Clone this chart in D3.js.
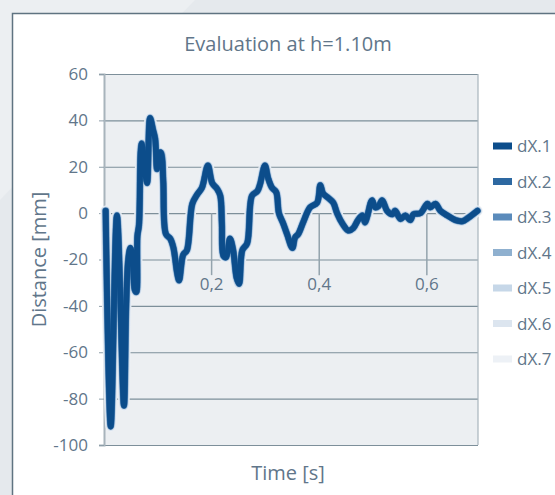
<!DOCTYPE html>
<html lang="en">
<head>
    <meta charset="UTF-8">
    <title>Evaluation at h=1.10m</title>
    <script src="https://d3js.org/d3.v7.min.js"></script>
    <style>
        body { margin: 0; background: #e5e9ed; }
        svg { font-family: "Open Sans", sans-serif; display: block; }
        .lbl { fill: #61768a; }
    </style>
</head>
<body>
    <svg></svg>
    <script>
        // time [s]
        const time = [0.004, 0.0134, 0.025, 0.038, 0.042, 0.046, 0.050, 0.054, 0.058, 0.061,
            0.063, 0.066, 0.069, 0.071, 0.076, 0.081, 0.0865, 0.092, 0.096, 0.0995,
            0.104, 0.107, 0.111, 0.116, 0.124, 0.130, 0.137, 0.1405, 0.148, 0.155,
            0.165, 0.174, 0.183, 0.194, 0.202, 0.211, 0.217, 0.220, 0.223, 0.228,
            0.235, 0.241, 0.2475, 0.252, 0.258, 0.267, 0.276, 0.286, 0.291, 0.300,
            0.306, 0.313, 0.321, 0.326, 0.334, 0.341, 0.351, 0.356, 0.362, 0.371,
            0.384, 0.397, 0.403, 0.408, 0.418, 0.427, 0.434, 0.444, 0.455, 0.464,
            0.473, 0.481, 0.486, 0.490, 0.499, 0.505, 0.511, 0.518, 0.527, 0.537,
            0.542, 0.552, 0.561, 0.570, 0.576, 0.589, 0.602, 0.607, 0.617, 0.626,
            0.639, 0.654, 0.667, 0.678, 0.695];
        // distance [mm], all seven series lie practically on top of each other
        const distance = [1, -92, -1, -83, -41, -20, -15, -18, -33, -34,
            -10, -5, 26, 30, 20, 13, 41, 36, 32, 19,
            26, 26, 14, -9, -11, -15, -26, -29, -18, -16,
            4, 8, 11, 20.5, 13, 10.5, 7.5, -4.5, -18.5, -19,
            -11, -16, -28, -30.5, -16, -13, 7.5, 9.5, 12.5, 20.5,
            15, 11, 9, 0, -4.5, -9, -15, -10.5, -9, -4,
            2.5, 4.5, 12, 8.5, 6.5, 4.5, 0, -4.5, -7.5, -6.5,
            -3, -1, -4, -1.5, 5.5, 2.5, 3, 5.5, 1, -0.5,
            1, -2.5, -1, -3, -0.5, 0, 4, 2.5, 4, 1,
            -1, -3, -3.5, -2, 1];
        const seriesNames = ['dX.1', 'dX.2', 'dX.3', 'dX.4', 'dX.5', 'dX.6', 'dX.7'];
        const seriesColors = ['#0c4d8b', '#2d68a1', '#5b8bbb', '#8fb0cf', '#c6d7e8', '#dce5ef', '#edf1f6'];
        const seriesWidths = [5.6, 6, 6.4, 7, 8, 9.2, 10.5];
        const yTicks = [-100, -80, -60, -40, -20, 0, 20, 40, 60];
        const xTicks = [0.2, 0.4, 0.6];

        const W = 555, H = 495;
        const plot = { left: 104, right: 478, top: 74, bottom: 445 };

        const svg = d3.select('svg').attr('width', W).attr('height', H);

        // background + panel
        svg.append('rect').attr('width', W).attr('height', H).attr('fill', '#e5e9ed');
        svg.append('path').attr('d', 'M0,0 L195,0 L0,200 Z').attr('fill', '#eceff2');
        svg.append('rect')
            .attr('x', 12.5).attr('y', 13.5)
            .attr('width', W).attr('height', H)
            .attr('fill', '#ffffff')
            .attr('stroke', '#5f7381').attr('stroke-width', 1.5);

        const x = d3.scaleLinear().domain([0, 0.696]).range([103.5, plot.right]);
        const y = d3.scaleLinear().domain([-100, 60]).range([plot.bottom, plot.top]);

        svg.append('rect')
            .attr('x', plot.left).attr('y', plot.top)
            .attr('width', plot.right - plot.left).attr('height', plot.bottom - plot.top)
            .attr('fill', '#eceff2');

        // horizontal gridlines
        svg.append('g').selectAll('line').data(yTicks).enter().append('line')
            .attr('x1', plot.left).attr('x2', plot.right)
            .attr('y1', d => y(d) + 0.5).attr('y2', d => y(d) + 0.5)
            .attr('stroke', '#7d8f9a').attr('stroke-width', 1.2);

        // plot frame right side
        svg.append('line').attr('x1', plot.right).attr('x2', plot.right)
            .attr('y1', plot.top).attr('y2', plot.bottom)
            .attr('stroke', '#a8b4bc').attr('stroke-width', 1.2);

        // y axis
        const yAxis = svg.append('g')
            .attr('transform', `translate(${plot.left},0)`)
            .call(d3.axisLeft(y).tickValues(yTicks).tickSize(5).tickPadding(11).tickFormat(d => String(d)));
        yAxis.select('.domain').attr('stroke', '#a8b4bc').attr('stroke-width', 2);
        yAxis.selectAll('.tick line').attr('stroke', '#8d9ea9');
        yAxis.selectAll('.tick text').attr('class', 'lbl')
            .style('font-size', '17px').style('font-family', '"Open Sans", sans-serif');

        // x axis crosses at 0, ticks hang down
        const fmt = d3.formatLocale({ decimal: ',', thousands: '.', grouping: [3], currency: ['', ''] }).format('.1f');
        const xAxis = svg.append('g')
            .attr('transform', `translate(0,${y(0)})`)
            .call(d3.axisBottom(x).tickValues(xTicks).tickSize(62).tickPadding(3).tickFormat(fmt));
        xAxis.select('.domain').remove();
        xAxis.selectAll('.tick line').attr('stroke', '#93a3ad').attr('stroke-width', 1.5);
        xAxis.selectAll('.tick text').attr('class', 'lbl')
            .style('font-size', '17px').style('font-family', '"Open Sans", sans-serif');

        // series, lightest drawn first
        const line = d3.line()
            .x((d, i) => x(time[i]))
            .y(d => y(d))
            .curve(d3.curveCatmullRom.alpha(0.5));

        const order = d3.range(seriesNames.length).reverse();
        svg.append('g').selectAll('path').data(order).enter().append('path')
            .attr('d', () => line(distance))
            .attr('fill', 'none')
            .attr('stroke', i => seriesColors[i])
            .attr('stroke-width', i => seriesWidths[i])
            .attr('stroke-linejoin', 'round')
            .attr('stroke-linecap', 'round');

        // legend
        const legend = svg.append('g').selectAll('g').data(seriesNames).enter().append('g')
            .attr('transform', (d, i) => `translate(493,${146 + i * 35.5})`);
        legend.append('rect')
            .attr('x', 0).attr('y', -3.5).attr('width', 19).attr('height', 7)
            .attr('fill', (d, i) => seriesColors[i]);
        legend.append('text')
            .attr('class', 'lbl')
            .attr('x', 24).attr('y', 6)
            .style('font-size', '17px')
            .text(d => d);

        // titles
        svg.append('text').attr('class', 'lbl')
            .attr('x', 288).attr('y', 51)
            .attr('text-anchor', 'middle')
            .style('font-size', '20px')
            .text('Evaluation at h=1.10m');

        svg.append('text').attr('class', 'lbl')
            .attr('x', 288).attr('y', 480)
            .attr('text-anchor', 'middle')
            .style('font-size', '20px')
            .text('Time [s]');

        svg.append('text').attr('class', 'lbl')
            .attr('transform', 'rotate(-90)')
            .attr('x', -(plot.top + plot.bottom) / 2).attr('y', 46)
            .attr('text-anchor', 'middle')
            .style('font-size', '20px')
            .text('Distance [mm]');
    </script>
</body>
</html>
